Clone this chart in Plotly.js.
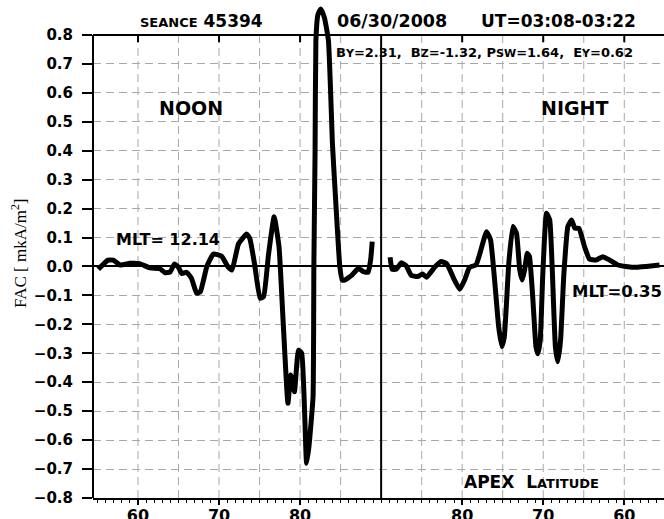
<!DOCTYPE html>
<html>
<head>
<meta charset="utf-8">
<script src="https://cdn.plot.ly/plotly-3.0.1.min.js"></script>
<style>html,body{margin:0;padding:0;background:#fff;}#chart{width:664px;height:519px;}</style>
</head>
<body>
<div id="chart"></div>
<script>
// ---- Data ----
const noonLat = [55.1, 56.3, 56.95, 57.8, 59.0, 60.2, 61.5, 62.7, 63.3, 63.95, 64.5, 65.0, 65.4, 66.0, 66.6, 67.25, 67.7, 68.5, 69.3, 70.3, 71.15, 71.6, 72.4, 73.4, 73.8, 74.4, 75.06, 75.5, 76.1, 76.8, 77.4, 77.9, 78.5, 78.85, 79.3, 79.8, 80.2, 80.8, 81.1, 81.6, 81.7, 81.85, 81.95, 82.2, 82.55, 83.0, 83.5, 84.0, 84.45, 84.9, 85.2, 85.5, 86.4, 87.2, 87.8, 88.4, 88.7, 88.9];
const noonFac = [-0.01, 0.022, 0.022, 0.005, 0.011, 0.01, -0.005, -0.008, -0.021, -0.02, 0.009, -0.003, -0.024, -0.02, -0.041, -0.093, -0.087, 0.0, 0.043, 0.036, -0.003, -0.012, 0.078, 0.112, 0.097, 0.005, -0.11, -0.104, 0.04, 0.172, 0.068, -0.185, -0.473, -0.375, -0.433, -0.289, -0.30, -0.68, -0.62, -0.45, 0.0, 0.4, 0.78, 0.87, 0.89, 0.86, 0.78, 0.42, 0.2, 0.0, -0.047, -0.047, -0.03, -0.006, -0.018, -0.02, 0.022, 0.086];

const nightLat = [88.9, 88.64, 88.15, 87.5, 86.9, 86.3, 85.5, 84.9, 84.4, 83.4, 82.6, 81.9, 80.95, 80.3, 79.7, 79.1, 78.3, 77.75, 77.0, 76.5, 76.0, 75.5, 75.1, 74.8, 74.25, 73.75, 73.3, 72.9, 72.6, 72.3, 71.97, 71.7, 71.3, 70.9, 70.67, 70.37, 70.05, 69.6, 69.2, 68.9, 68.5, 68.2, 67.86, 67.45, 66.96, 66.5, 66.1, 65.6, 64.9, 64.3, 63.5, 62.65, 61.8, 60.8, 59.8, 58.5, 57.3, 55.65];
const nightFac = [0.032, -0.01, -0.01, 0.013, 0.002, -0.03, -0.035, -0.026, -0.037, -0.003, 0.017, 0.009, -0.047, -0.079, -0.047, -0.003, 0.005, 0.051, 0.12, 0.092, -0.047, -0.208, -0.277, -0.243, 0.011, 0.138, 0.115, -0.012, -0.047, -0.012, 0.046, 0.034, -0.104, -0.277, -0.302, -0.254, -0.024, 0.184, 0.161, 0.0, -0.277, -0.329, -0.254, -0.024, 0.138, 0.161, 0.132, 0.132, 0.068, 0.026, 0.022, 0.034, 0.022, 0.005, 0.0, -0.003, 0.0, 0.005];

// x-axis ticks: left half is latitude, right half mirrored (180 - lat)
const xTickVals = [60, 70, 80, 100, 110, 120];
const xTickText = ['60', '70', '80', '80', '70', '60'];
const yTickVals = [-0.8, -0.7, -0.6, -0.5, -0.4, -0.3, -0.2, -0.1, 0.0, 0.1, 0.2, 0.3, 0.4, 0.5, 0.6, 0.7, 0.8];
const yTickText = ['\u22120.8', '\u22120.7', '\u22120.6', '\u22120.5', '\u22120.4', '\u22120.3', '\u22120.2', '\u22120.1', '0.0', '0.1', '0.2', '0.3', '0.4', '0.5', '0.6', '0.7', '0.8'];

// ---- Layout helpers ----
const X0 = 93, W = 571, YB = 498, H = 492;
const px = x => (x - X0) / W;
const py = y => (YB - y) / H;
const BOLD = {family: 'DejaVu Sans', color: '#000', weight: 'bold'};
const f = (size) => Object.assign({}, BOLD, {size: size});

const mirror = lat => 180 - lat;

const traces = [
  {x: noonLat, y: noonFac, type: 'scatter', mode: 'lines',
   line: {color: '#000', width: 5, shape: 'spline', smoothing: 0.4}, hoverinfo: 'skip'},
  {x: nightLat.map(mirror), y: nightFac, type: 'scatter', mode: 'lines',
   line: {color: '#000', width: 5, shape: 'spline', smoothing: 0.4}, hoverinfo: 'skip'}
];

const shapes = [];
for (let u = 60; u <= 120; u += 5) {
  if (u === 90) continue;
  shapes.push({type: 'line', xref: 'x', yref: 'y', x0: u, x1: u, y0: -0.8, y1: 0.8,
    line: {color: '#a8a8a8', width: 1, dash: '8px,5px'}, layer: 'below'});
}
// left axis line (only from -0.8 to 0.8)
shapes.push({type: 'line', xref: 'paper', yref: 'y', x0: 0, x1: 0, y0: -0.8, y1: 0.8,
  line: {color: '#000', width: 2}});
// top border at 0.8
shapes.push({type: 'line', xref: 'paper', yref: 'y', x0: 0, x1: 1, y0: 0.8, y1: 0.8,
  line: {color: '#000', width: 2}});
// top ticks
xTickVals.forEach(u => shapes.push({type: 'line', xref: 'x', yref: 'y', x0: u, x1: u, y0: 0.8, y1: 0.775,
  line: {color: '#000', width: 2}}));
// divider between noon and night halves
shapes.push({type: 'line', xref: 'x', yref: 'y', x0: 90, x1: 90, y0: -0.835, y1: 0.8,
  line: {color: '#000', width: 2}});

const sc = s => '<span style="font-size:' + s + 'px">';
const annotations = [
  {text: sc(13) + 'SEANCE</span> 45394', x: px(201), y: py(21), font: f(17)},
  {text: '06/30/2008', x: px(392), y: py(21), font: f(17.5)},
  {text: 'UT=03:08-03:22', x: px(558), y: py(21), font: f(17)},
  {text: 'B' + sc(11) + 'Y</span>=2.31,&nbsp; B' + sc(11) + 'Z</span>=-1.32, P' + sc(11) + 'SW</span>=1.64,&nbsp; E' + sc(11) + 'Y</span>=0.62',
   x: px(334), y: py(52), xanchor: 'left', font: f(13)},
  {text: 'NOON', x: px(191), y: py(108), font: f(19)},
  {text: 'NIGHT', x: px(574), y: py(108), font: f(19)},
  {text: 'MLT= 12.14', x: px(168), y: py(239), font: f(16)},
  {text: 'MLT=0.35', x: px(664), y: py(291), xanchor: 'right', font: f(16.5)},
  {text: 'APEX&nbsp; L' + sc(13) + 'ATITUDE</span>', x: px(531), y: py(482), font: f(17)},
  {text: 'FAC [ mkA/m<sup>2</sup>]', x: px(19), y: py(253), textangle: -90,
   font: {family: 'Liberation Serif', size: 17, color: '#000'}}
].map(a => Object.assign({xref: 'paper', yref: 'paper', showarrow: false, xanchor: 'center', yanchor: 'middle'}, a));

const layout = {
  width: 664, height: 519,
  margin: {l: X0, r: 0, t: 6, b: 21, pad: 0},
  paper_bgcolor: '#fff', plot_bgcolor: '#fff',
  showlegend: false,
  xaxis: {
    range: [54.45, 124.9], tickmode: 'array', tickvals: xTickVals, ticktext: xTickText,
    showgrid: false, zeroline: false, showline: true, linecolor: '#000', linewidth: 2,
    ticks: 'outside', ticklen: 5, tickwidth: 2, tickcolor: '#000',
    tickfont: f(16), ticklabelstandoff: -3,
    minor: {tickmode: 'linear', tick0: 0, dtick: 1, ticks: 'outside', ticklen: 3, tickwidth: 1, tickcolor: '#000', showgrid: false}
  },
  yaxis: {
    range: [-0.8, 0.9], tickmode: 'array', tickvals: yTickVals, ticktext: yTickText,
    showgrid: true, gridcolor: '#a8a8a8', gridwidth: 1, griddash: '8px,5px',
    zeroline: true, zerolinecolor: '#000', zerolinewidth: 2,
    showline: false,
    ticks: 'outside', ticklen: 10, tickwidth: 2, tickcolor: '#000',
    tickfont: f(15), ticklabelstandoff: 6
  },
  shapes: shapes,
  annotations: annotations
};

Plotly.newPlot('chart', traces, layout, {staticPlot: true, displayModeBar: false});
</script>
</body>
</html>
